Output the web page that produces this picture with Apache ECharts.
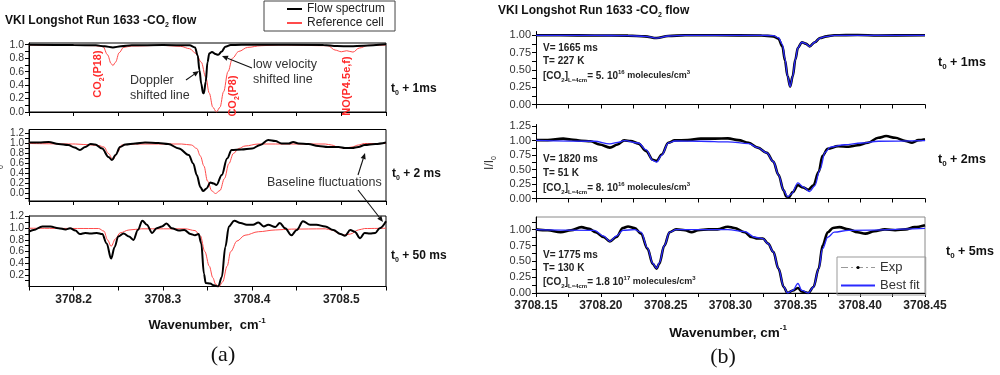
<!DOCTYPE html>
<html><head><meta charset="utf-8">
<script src="https://cdn.jsdelivr.net/npm/echarts@6/dist/echarts.min.js"></script>
<style>html,body{margin:0;padding:0;background:#fff}#c{width:1000px;height:375px}</style>
</head><body><div id="c"></div>
<script>
// ---------------- DATA ----------------
// Panel (a): wavenumber axis ticks / labels
const aXLabels = [3708.2, 3708.3, 3708.4, 3708.5];
const aXTicks = [3708.15, 3708.2, 3708.25, 3708.3, 3708.35, 3708.4, 3708.45, 3708.5, 3708.55];
const a1YLabels = [0, 0.2, 0.4, 0.6, 0.8, 1.0];
const a1YTicks = [0, 0.1, 0.2, 0.3, 0.4, 0.5, 0.6, 0.7, 0.8, 0.9, 1.0];
const a2YLabels = [0, 0.2, 0.4, 0.6, 0.8, 1.0, 1.2];
const a2YTicks = [-0.1, 0, 0.1, 0.2, 0.3, 0.4, 0.5, 0.6, 0.7, 0.8, 0.9, 1.0, 1.1, 1.2];
const a3YLabels = [0.2, 0.4, 0.6, 0.8, 1.0, 1.2];
const a3YTicks = [0.1, 0.2, 0.3, 0.4, 0.5, 0.6, 0.7, 0.8, 0.9, 1.0, 1.1, 1.2];

// (a) t0 + 1 ms
const a1FlowX = [3708.150, 3708.200, 3708.225, 3708.235, 3708.244, 3708.253, 3708.265, 3708.300, 3708.330, 3708.336, 3708.339, 3708.341, 3708.343, 3708.345, 3708.346, 3708.348, 3708.350, 3708.352, 3708.355, 3708.359, 3708.362, 3708.366, 3708.370, 3708.376, 3708.400, 3708.480, 3708.495, 3708.510, 3708.525, 3708.550];
const a1FlowY = [1.0, 0.995, 0.99, 0.975, 0.96, 0.975, 0.99, 0.995, 0.99, 0.96, 0.84, 0.62, 0.42, 0.28, 0.28, 0.45, 0.74, 0.87, 0.89, 0.86, 0.85, 0.9, 0.97, 0.995, 1.0, 0.995, 0.98, 0.975, 0.985, 1.005];
const a1RefX = [3708.150, 3708.200, 3708.225, 3708.233, 3708.238, 3708.242, 3708.244, 3708.247, 3708.251, 3708.256, 3708.265, 3708.300, 3708.320, 3708.330, 3708.337, 3708.343, 3708.348, 3708.352, 3708.356, 3708.360, 3708.364, 3708.368, 3708.373, 3708.378, 3708.385, 3708.395, 3708.410, 3708.430, 3708.485, 3708.493, 3708.500, 3708.506, 3708.513, 3708.520, 3708.530, 3708.550];
const a1RefY = [0.995, 0.99, 0.985, 0.97, 0.85, 0.72, 0.69, 0.74, 0.88, 0.96, 0.98, 0.99, 0.975, 0.94, 0.87, 0.74, 0.52, 0.28, 0.07, 0.0, 0.07, 0.3, 0.6, 0.8, 0.9, 0.96, 0.985, 0.995, 0.985, 0.92, 0.895, 0.91, 0.89, 0.95, 0.99, 0.995];

// (a) t0 + 2 ms
const a2FlowX = [3708.150, 3708.161, 3708.172, 3708.183, 3708.194, 3708.201, 3708.207, 3708.213, 3708.219, 3708.224, 3708.232, 3708.239, 3708.243, 3708.247, 3708.252, 3708.258, 3708.269, 3708.280, 3708.295, 3708.306, 3708.318, 3708.329, 3708.334, 3708.338, 3708.342, 3708.345, 3708.349, 3708.353, 3708.357, 3708.360, 3708.366, 3708.372, 3708.377, 3708.388, 3708.400, 3708.409, 3708.418, 3708.426, 3708.433, 3708.441, 3708.446, 3708.452, 3708.463, 3708.474, 3708.485, 3708.497, 3708.504, 3708.512, 3708.519, 3708.526, 3708.538, 3708.550];
const a2FlowY = [1.02, 1.02, 1.03, 0.99, 0.97, 0.92, 0.87, 0.93, 0.99, 0.98, 0.90, 0.73, 0.67, 0.77, 0.93, 0.98, 1.0, 1.02, 1.01, 0.99, 0.90, 0.77, 0.60, 0.37, 0.13, 0.05, 0.1, 0.22, 0.2, 0.17, 0.37, 0.70, 0.87, 0.88, 0.90, 0.97, 1.07, 1.05, 1.0, 1.0, 1.03, 1.0, 0.99, 0.95, 0.93, 0.93, 0.91, 0.91, 0.93, 0.97, 0.99, 1.02];
const a2RefX = [3708.150, 3708.202, 3708.221, 3708.228, 3708.234, 3708.239, 3708.244, 3708.249, 3708.254, 3708.269, 3708.321, 3708.332, 3708.338, 3708.342, 3708.346, 3708.350, 3708.355, 3708.359, 3708.364, 3708.369, 3708.374, 3708.379, 3708.385, 3708.392, 3708.407, 3708.482, 3708.489, 3708.497, 3708.504, 3708.512, 3708.519, 3708.526, 3708.550];
const a2RefY = [1.0, 0.99, 0.97, 0.96, 0.93, 0.80, 0.68, 0.82, 0.97, 0.99, 0.99, 0.97, 0.9, 0.75, 0.55, 0.25, 0.05, 0.0, 0.06, 0.3, 0.6, 0.8, 0.9, 0.95, 0.99, 0.99, 0.97, 0.92, 0.91, 0.93, 0.97, 1.0, 1.0];

// (a) t0 + 50 ms
const a3FlowX = [3708.150, 3708.155, 3708.165, 3708.174, 3708.183, 3708.191, 3708.196, 3708.202, 3708.207, 3708.213, 3708.219, 3708.226, 3708.232, 3708.237, 3708.242, 3708.246, 3708.250, 3708.256, 3708.262, 3708.267, 3708.272, 3708.277, 3708.282, 3708.288, 3708.293, 3708.299, 3708.304, 3708.310, 3708.318, 3708.324, 3708.331, 3708.336, 3708.340, 3708.343, 3708.346, 3708.348, 3708.353, 3708.357, 3708.362, 3708.366, 3708.370, 3708.374, 3708.380, 3708.387, 3708.394, 3708.401, 3708.407, 3708.413, 3708.418, 3708.426, 3708.431, 3708.437, 3708.444, 3708.450, 3708.457, 3708.465, 3708.472, 3708.482, 3708.491, 3708.499, 3708.504, 3708.510, 3708.515, 3708.521, 3708.526, 3708.532, 3708.538, 3708.543, 3708.550];
const a3FlowY = [0.94, 0.97, 1.03, 1.03, 1.0, 0.98, 1.0, 0.96, 0.90, 0.92, 0.91, 0.92, 0.90, 0.74, 0.48, 0.68, 0.86, 0.91, 0.86, 0.80, 0.97, 1.13, 1.06, 0.92, 1.0, 1.03, 1.08, 1.0, 0.96, 0.97, 0.90, 0.88, 0.90, 0.74, 0.22, 0.06, 0.05, 0.02, 0.0, 0.16, 0.68, 1.03, 1.13, 1.09, 1.06, 1.06, 1.10, 1.03, 1.06, 1.02, 1.09, 1.0, 0.88, 0.97, 1.12, 1.06, 1.06, 1.03, 0.97, 0.90, 0.87, 0.97, 0.94, 0.83, 0.92, 0.91, 0.92, 1.0, 1.12];
const a3RefX = [3708.150, 3708.228, 3708.234, 3708.238, 3708.242, 3708.247, 3708.252, 3708.262, 3708.276, 3708.325, 3708.336, 3708.342, 3708.347, 3708.352, 3708.356, 3708.359, 3708.363, 3708.367, 3708.372, 3708.376, 3708.383, 3708.392, 3708.407, 3708.426, 3708.444, 3708.482, 3708.489, 3708.499, 3708.502, 3708.510, 3708.519, 3708.526, 3708.550];
const a3RefY = [1.0, 0.995, 0.95, 0.8, 0.69, 0.82, 0.92, 0.97, 0.99, 0.99, 0.96, 0.87, 0.6, 0.35, 0.15, 0.04, 0.0, 0.08, 0.35, 0.6, 0.78, 0.88, 0.94, 0.97, 0.985, 0.99, 0.97, 0.9, 0.88, 0.9, 0.97, 0.995, 1.0];

// Panel (b): axis ticks / labels
const bXLabels = [3708.15, 3708.20, 3708.25, 3708.30, 3708.35, 3708.40, 3708.45];
const bXTicks = [3708.15, 3708.175, 3708.20, 3708.225, 3708.25, 3708.275, 3708.30, 3708.325, 3708.35, 3708.375, 3708.40, 3708.425, 3708.45];
const b1YLabels = [0, 0.25, 0.5, 0.75, 1.0];
const b2YLabels = [0, 0.25, 0.5, 0.75, 1.0, 1.25];
const b3YLabels = [0, 0.25, 0.5, 0.75, 1.0];
const b1YTicks = [0, 0.125, 0.25, 0.375, 0.5, 0.625, 0.75, 0.875, 1.0];
const b2YTicks = [0, 0.125, 0.25, 0.375, 0.5, 0.625, 0.75, 0.875, 1.0, 1.125, 1.25];
const b3YTicks = [0, 0.125, 0.25, 0.375, 0.5, 0.625, 0.75, 0.875, 1.0, 1.125];

// (b) t0 + 1 ms
const b1ExpX = [3708.150, 3708.169, 3708.195, 3708.221, 3708.234, 3708.243, 3708.252, 3708.265, 3708.288, 3708.324, 3708.333, 3708.337, 3708.340, 3708.342, 3708.344, 3708.346, 3708.348, 3708.350, 3708.352, 3708.355, 3708.358, 3708.361, 3708.365, 3708.369, 3708.374, 3708.380, 3708.398, 3708.414, 3708.450];
const b1ExpY = [1.0, 1.0, 0.998, 0.995, 0.985, 0.96, 0.99, 1.0, 1.0, 0.998, 0.985, 0.95, 0.84, 0.64, 0.41, 0.26, 0.41, 0.65, 0.82, 0.90, 0.88, 0.84, 0.90, 0.96, 0.985, 1.0, 1.005, 0.998, 1.0];
const b1FitX = [3708.150, 3708.195, 3708.221, 3708.234, 3708.243, 3708.252, 3708.265, 3708.324, 3708.333, 3708.337, 3708.340, 3708.342, 3708.344, 3708.346, 3708.348, 3708.350, 3708.352, 3708.355, 3708.358, 3708.361, 3708.365, 3708.369, 3708.374, 3708.380, 3708.450];
const b1FitY = [1.0, 1.0, 0.995, 0.985, 0.96, 0.99, 1.0, 1.0, 0.995, 0.965, 0.87, 0.66, 0.41, 0.26, 0.41, 0.65, 0.82, 0.90, 0.88, 0.84, 0.90, 0.96, 0.985, 1.0, 1.0];

// (b) t0 + 2 ms
const b2ExpX = [3708.150, 3708.159, 3708.171, 3708.177, 3708.185, 3708.192, 3708.199, 3708.207, 3708.213, 3708.218, 3708.223, 3708.229, 3708.235, 3708.240, 3708.243, 3708.247, 3708.252, 3708.257, 3708.267, 3708.277, 3708.288, 3708.298, 3708.306, 3708.314, 3708.321, 3708.328, 3708.333, 3708.337, 3708.341, 3708.343, 3708.345, 3708.348, 3708.352, 3708.356, 3708.360, 3708.364, 3708.368, 3708.371, 3708.375, 3708.383, 3708.391, 3708.398, 3708.406, 3708.414, 3708.420, 3708.427, 3708.435, 3708.440, 3708.445, 3708.450];
const b2ExpY = [1.01, 1.01, 1.035, 1.02, 1.0, 0.99, 0.935, 0.88, 0.935, 1.005, 0.995, 0.95, 0.82, 0.67, 0.65, 0.76, 0.965, 1.005, 1.01, 1.035, 1.035, 1.04, 1.01, 0.965, 0.88, 0.79, 0.64, 0.41, 0.14, 0.035, 0.02, 0.11, 0.23, 0.19, 0.15, 0.23, 0.46, 0.74, 0.86, 0.906, 0.894, 0.92, 0.965, 1.05, 1.08, 1.05, 0.995, 0.965, 1.01, 1.025];
const b2FitX = [3708.150, 3708.195, 3708.207, 3708.213, 3708.218, 3708.229, 3708.235, 3708.240, 3708.243, 3708.247, 3708.252, 3708.257, 3708.277, 3708.298, 3708.314, 3708.321, 3708.328, 3708.333, 3708.337, 3708.341, 3708.344, 3708.347, 3708.352, 3708.356, 3708.361, 3708.365, 3708.369, 3708.373, 3708.377, 3708.388, 3708.401, 3708.414, 3708.450];
const b2FitY = [1.005, 0.99, 0.945, 0.97, 1.0, 0.96, 0.84, 0.66, 0.63, 0.75, 0.96, 0.995, 0.99, 0.98, 0.95, 0.88, 0.79, 0.64, 0.41, 0.14, 0.03, 0.08, 0.27, 0.2, 0.12, 0.22, 0.5, 0.8, 0.89, 0.93, 0.96, 0.99, 1.0];

// (b) t0 + 5 ms
const b3ExpX = [3708.150, 3708.159, 3708.169, 3708.177, 3708.185, 3708.191, 3708.196, 3708.202, 3708.207, 3708.212, 3708.217, 3708.221, 3708.226, 3708.231, 3708.236, 3708.240, 3708.243, 3708.245, 3708.249, 3708.253, 3708.258, 3708.265, 3708.270, 3708.275, 3708.283, 3708.290, 3708.298, 3708.303, 3708.311, 3708.316, 3708.321, 3708.325, 3708.329, 3708.333, 3708.337, 3708.341, 3708.344, 3708.348, 3708.352, 3708.355, 3708.360, 3708.364, 3708.368, 3708.371, 3708.375, 3708.379, 3708.384, 3708.391, 3708.398, 3708.404, 3708.411, 3708.419, 3708.427, 3708.435, 3708.442, 3708.450];
const b3ExpY = [1.005, 0.99, 0.96, 0.99, 1.04, 1.015, 0.96, 0.885, 0.815, 0.885, 1.026, 1.05, 1.026, 0.937, 0.70, 0.46, 0.385, 0.46, 0.75, 0.96, 1.005, 0.99, 0.96, 0.99, 1.005, 1.005, 1.047, 1.026, 0.96, 0.885, 0.86, 0.86, 0.78, 0.65, 0.385, 0.095, 0.0, 0.04, 0.08, 0.026, 0.0, 0.095, 0.385, 0.75, 0.96, 1.026, 1.04, 1.005, 0.96, 0.937, 0.974, 1.005, 0.99, 1.005, 1.04, 1.07];
const b3FitX = [3708.150, 3708.195, 3708.202, 3708.207, 3708.212, 3708.217, 3708.226, 3708.231, 3708.236, 3708.240, 3708.243, 3708.245, 3708.249, 3708.253, 3708.258, 3708.298, 3708.311, 3708.319, 3708.325, 3708.329, 3708.333, 3708.337, 3708.341, 3708.344, 3708.348, 3708.352, 3708.355, 3708.360, 3708.364, 3708.368, 3708.371, 3708.375, 3708.380, 3708.391, 3708.450];
const b3FitY = [1.0, 0.99, 0.9, 0.815, 0.9, 0.99, 1.0, 0.96, 0.71, 0.47, 0.39, 0.47, 0.75, 0.96, 1.0, 1.0, 0.97, 0.88, 0.86, 0.78, 0.65, 0.39, 0.1, 0.0, 0.04, 0.15, 0.04, 0.0, 0.095, 0.38, 0.7, 0.88, 0.96, 0.99, 1.02];

// ---------------- CHART ----------------
const F = 'Liberation Sans, Arial, sans-serif';
const pts = (xs, ys) => xs.map((x, i) => [x, ys[i]]);
const chart = echarts.init(document.getElementById('c'), null, {renderer: 'canvas'});

const grids = [
  {left: 29, top: 43, width: 357, height: 69},
  {left: 29, top: 129.5, width: 357, height: 71.5},
  {left: 29, top: 216, width: 357, height: 70.5},
  {left: 536, top: 31.5, width: 389, height: 73},
  {left: 536, top: 124.5, width: 389, height: 74},
  {left: 536, top: 217, width: 389, height: 76}
].map((g, i) => Object.assign({
  show: i < 3 || i === 5,
  borderColor: i < 3 ? '#000' : '#8a8a8a',
  borderWidth: 1,
  backgroundColor: 'transparent'
}, g));

function xAx(gi, min, max, labels, ticks, digits) {
  return {
    type: 'value', gridIndex: gi, min, max,
    axisLine: {show: true, onZero: false, lineStyle: {color: '#000', width: 1}},
    axisTick: {show: true, inside: false, length: 4, customValues: ticks, lineStyle: {color: '#000'}},
    axisLabel: labels ? {customValues: labels, formatter: v => v.toFixed(digits), fontSize: 12, fontWeight: 'bold', color: '#222', fontFamily: F, margin: 7, hideOverlap: false} : {show: false},
    splitLine: {show: false}
  };
}
function yAx(gi, min, max, labels, ticks, digits, fs) {
  return {
    type: 'value', gridIndex: gi, min, max,
    axisLine: {show: true, onZero: false, lineStyle: {color: '#000', width: 1}},
    axisTick: {show: true, inside: false, length: 4, customValues: ticks, lineStyle: {color: '#000'}},
    axisLabel: {customValues: labels, formatter: v => v.toFixed(digits), fontSize: fs || 11, lineHeight: fs || 11, color: '#333', fontFamily: F, margin: 5, hideOverlap: false},
    splitLine: {show: false}
  };
}

const xAxes = [
  xAx(0, 3708.15, 3708.55, null, aXTicks, 1),
  xAx(1, 3708.15, 3708.55, null, aXTicks, 1),
  xAx(2, 3708.15, 3708.55, aXLabels, aXTicks, 1),
  xAx(3, 3708.15, 3708.45, null, bXTicks, 2),
  xAx(4, 3708.15, 3708.45, null, bXTicks, 2),
  xAx(5, 3708.15, 3708.45, bXLabels, bXTicks, 2)
];
const yAxes = [
  yAx(0, 0, 1.025, a1YLabels, a1YTicks, 1, 10.5),
  yAx(1, -0.15, 1.28, a2YLabels, a2YTicks, 1, 10),
  yAx(2, 0, 1.21, a3YLabels, a3YTicks, 1, 10.5),
  yAx(3, 0, 1.055, b1YLabels, b1YTicks, 2, 11),
  yAx(4, 0, 1.28, b2YLabels, b2YTicks, 2, 11),
  yAx(5, 0, 1.2, b3YLabels, b3YTicks, 2, 11)
];

const RED = '#ff4b4b', BLUE = '#2a2aff';
function ln(name, idx, data, color, width, extra) {
  return Object.assign({
    name, type: 'line', xAxisIndex: idx, yAxisIndex: idx, data,
    symbol: 'none', smooth: 0.35, smoothMonotone: 'x', clip: true,
    lineStyle: {color, width}, itemStyle: {color}, animation: false
  }, extra || {});
}
const expExtra = {symbol: 'circle', symbolSize: 3, showSymbol: false};
const series = [
  ln('Reference cell', 0, pts(a1RefX, a1RefY), RED, 1),
  ln('Flow spectrum', 0, pts(a1FlowX, a1FlowY), '#000', 2),
  ln('Reference cell', 1, pts(a2RefX, a2RefY), RED, 1),
  ln('Flow spectrum', 1, pts(a2FlowX, a2FlowY), '#000', 2),
  ln('Reference cell', 2, pts(a3RefX, a3RefY), RED, 1),
  ln('Flow spectrum', 2, pts(a3FlowX, a3FlowY), '#000', 2),
  ln('Exp', 3, pts(b1ExpX, b1ExpY), '#000', 2.6, expExtra),
  ln('Best fit', 3, pts(b1FitX, b1FitY), BLUE, 1.3),
  ln('Exp', 4, pts(b2ExpX, b2ExpY), '#000', 2.6, expExtra),
  ln('Best fit', 4, pts(b2FitX, b2FitY), BLUE, 1.3),
  ln('Exp', 5, pts(b3ExpX, b3ExpY), '#000', 2.6, expExtra),
  ln('Best fit', 5, pts(b3FitX, b3FitY), BLUE, 1.3)
];

// ---- text helpers ----
const richBase = (fs, w, color) => ({
  b: {fontSize: fs, fontWeight: w, color, fontFamily: F, lineHeight: fs + 4},
  s: {fontSize: Math.round(fs * 0.6), fontWeight: w, color, fontFamily: F, lineHeight: Math.round(fs * 0.6), verticalAlign: 'bottom'},
  p: {fontSize: Math.round(fs * 0.6), fontWeight: w, color, fontFamily: F, lineHeight: Math.round(fs * 0.6), verticalAlign: 'top'},
  m: {fontSize: Math.round(fs * 0.85), fontWeight: w, color, fontFamily: F, lineHeight: fs + 4}
});
function rtext(x, y, text, fs, w, color, align, rot) {
  return {
    type: 'text', x, y, rotation: rot || 0, z: 100,
    style: {text, rich: richBase(fs, w, color), fill: color, align: align || 'left', verticalAlign: 'middle', font: `${w} ${fs}px ${F}`}
  };
}
function ptext(x, y, text, fs, w, color, align, family) {
  return {type: 'text', x, y, z: 100, style: {text, fill: color, align: align || 'left', verticalAlign: 'middle', font: `${w} ${fs}px ${family || F}`, lineHeight: fs + 3}};
}
function arrow(x1, y1, x2, y2) {
  const a = Math.atan2(y2 - y1, x2 - x1), L = 6, W = 2.6;
  const bx = x2 - L * Math.cos(a), by = y2 - L * Math.sin(a);
  return [
    {type: 'line', z: 100, shape: {x1, y1, x2: bx, y2: by}, style: {stroke: '#111', lineWidth: 1.1}},
    {type: 'polygon', z: 100, shape: {points: [[x2, y2], [bx + W * Math.sin(a), by - W * Math.cos(a)], [bx - W * Math.sin(a), by + W * Math.cos(a)]]}, style: {fill: '#111'}}
  ];
}

const graphics = [
  rtext(5, 21, '{b|VKI Longshot Run 1633 -CO}{s|2}{b| flow}', 12, 'bold', '#111'),
  rtext(498, 11, '{b|VKI Longshot Run 1633 -CO}{s|2}{b| flow}', 12, 'bold', '#111'),
  // time labels (a)
  rtext(391, 89, '{b|t}{s|0}{b| + 1ms}', 12, 'bold', '#111'),
  rtext(392, 174, '{b|t}{s|0}{b| + 2 ms}', 12, 'bold', '#111'),
  rtext(391, 256, '{b|t}{s|0}{b| + 50 ms}', 12, 'bold', '#111'),
  // time labels (b)
  rtext(938, 63, '{b|t}{s|0}{b| + 1ms}', 12.5, 'bold', '#111'),
  rtext(938, 160, '{b|t}{s|0}{b| + 2ms}', 12.5, 'bold', '#111'),
  rtext(946, 252, '{b|t}{s|0}{b| + 5ms}', 12.5, 'bold', '#111'),
  // red line labels
  rtext(98, 74, '{b|CO}{s|2}{b|(P18)}', 11, 'bold', '#ff2a2a', 'center', Math.PI / 2),
  rtext(233, 96, '{b|CO}{s|2}{b|(P8)}', 11, 'bold', '#ff2a2a', 'center', Math.PI / 2),
  rtext(347, 86, '{b|NO(P4.5e,f)}', 11, 'bold', '#ff2a2a', 'center', Math.PI / 2),
  // annotations
  ptext(130, 81, 'Doppler', 12.5, 'normal', '#333'),
  ptext(130, 96, 'shifted line', 12.5, 'normal', '#333'),
  ptext(253, 65, 'low velocity', 12.5, 'normal', '#333'),
  ptext(253, 80, 'shifted line', 12.5, 'normal', '#333'),
  ptext(267, 183, 'Baseline fluctuations', 12.5, 'normal', '#333'),
  ...arrow(186, 80, 199, 71),
  ...arrow(252, 68, 222, 56),
  ...arrow(358, 175, 365, 153),
  ...arrow(358, 190, 383, 222),
  // axis titles
  rtext(207, 325, '{b|Wavenumber,  cm}{p|-1}', 13, 'bold', '#111', 'center'),
  rtext(728, 333, '{b|Wavenumber, cm}{p|-1}', 13.5, 'bold', '#111', 'center'),
  rtext(490, 163, '{b|I/I}{s|0}', 12, 'normal', '#333', 'center', Math.PI / 2),
  rtext(-3, 172, '{b|I/I}{s|0}', 12, 'normal', '#333', 'center', Math.PI / 2),
  ptext(223, 355, '(a)', 22, 'normal', '#111', 'center', 'Liberation Serif, Times New Roman, serif'),
  ptext(723, 357, '(b)', 22, 'normal', '#111', 'center', 'Liberation Serif, Times New Roman, serif'),
  // panel (b) parameter texts
  ptext(543, 48, 'V= 1665 ms', 10, 'bold', '#222'),
  ptext(543, 61, 'T= 227 K', 10, 'bold', '#222'),
  rtext(543, 76, '{b|[CO}{s|2}{b|]}{s|L=4cm}{b|= 5. 10}{p|16}{m| molecules/cm}{p|3}', 10, 'bold', '#222'),
  ptext(543, 159, 'V= 1820 ms', 10, 'bold', '#222'),
  ptext(543, 173, 'T= 51 K', 10, 'bold', '#222'),
  rtext(543, 188, '{b|[CO}{s|2}{b|]}{s|L=4cm}{b|= 8. 10}{p|16}{m| molecules/cm}{p|3}', 10, 'bold', '#222'),
  ptext(543, 255, 'V= 1775 ms', 10, 'bold', '#222'),
  ptext(543, 268, 'T= 130 K', 10, 'bold', '#222'),
  rtext(543, 282, '{b|[CO}{s|2}{b|]}{s|L=4cm}{b|= 1.8 10}{p|17}{m| molecules/cm}{p|3}', 10, 'bold', '#222')
];

chart.setOption({
  animation: false,
  backgroundColor: '#fff',
  grid: grids,
  xAxis: xAxes,
  yAxis: yAxes,
  legend: [
    {
      left: 264, top: 1, orient: 'vertical',
      data: [
        {name: 'Flow spectrum', itemStyle: {opacity: 0}},
        {name: 'Reference cell', itemStyle: {opacity: 0}}
      ],
      itemWidth: 15, itemHeight: 8, itemGap: 2,
      padding: [2, 10, 2, 22], borderColor: '#444', borderWidth: 1,
      textStyle: {fontSize: 12, color: '#222', fontFamily: F}
    },
    {
      left: 837, top: 257, orient: 'vertical',
      data: [
        {name: 'Exp', lineStyle: {color: '#999', type: [7, 3, 2, 3], width: 1.2}, itemStyle: {color: '#000'}},
        {name: 'Best fit', itemStyle: {opacity: 0}}
      ],
      itemWidth: 34, itemHeight: 4, itemGap: 5,
      padding: [4, 6, 3, 3], borderColor: '#999', borderWidth: 1,
      textStyle: {fontSize: 13, color: '#333', fontFamily: F}
    }
  ],
  series,
  graphic: graphics
});
</script>
</body></html>
